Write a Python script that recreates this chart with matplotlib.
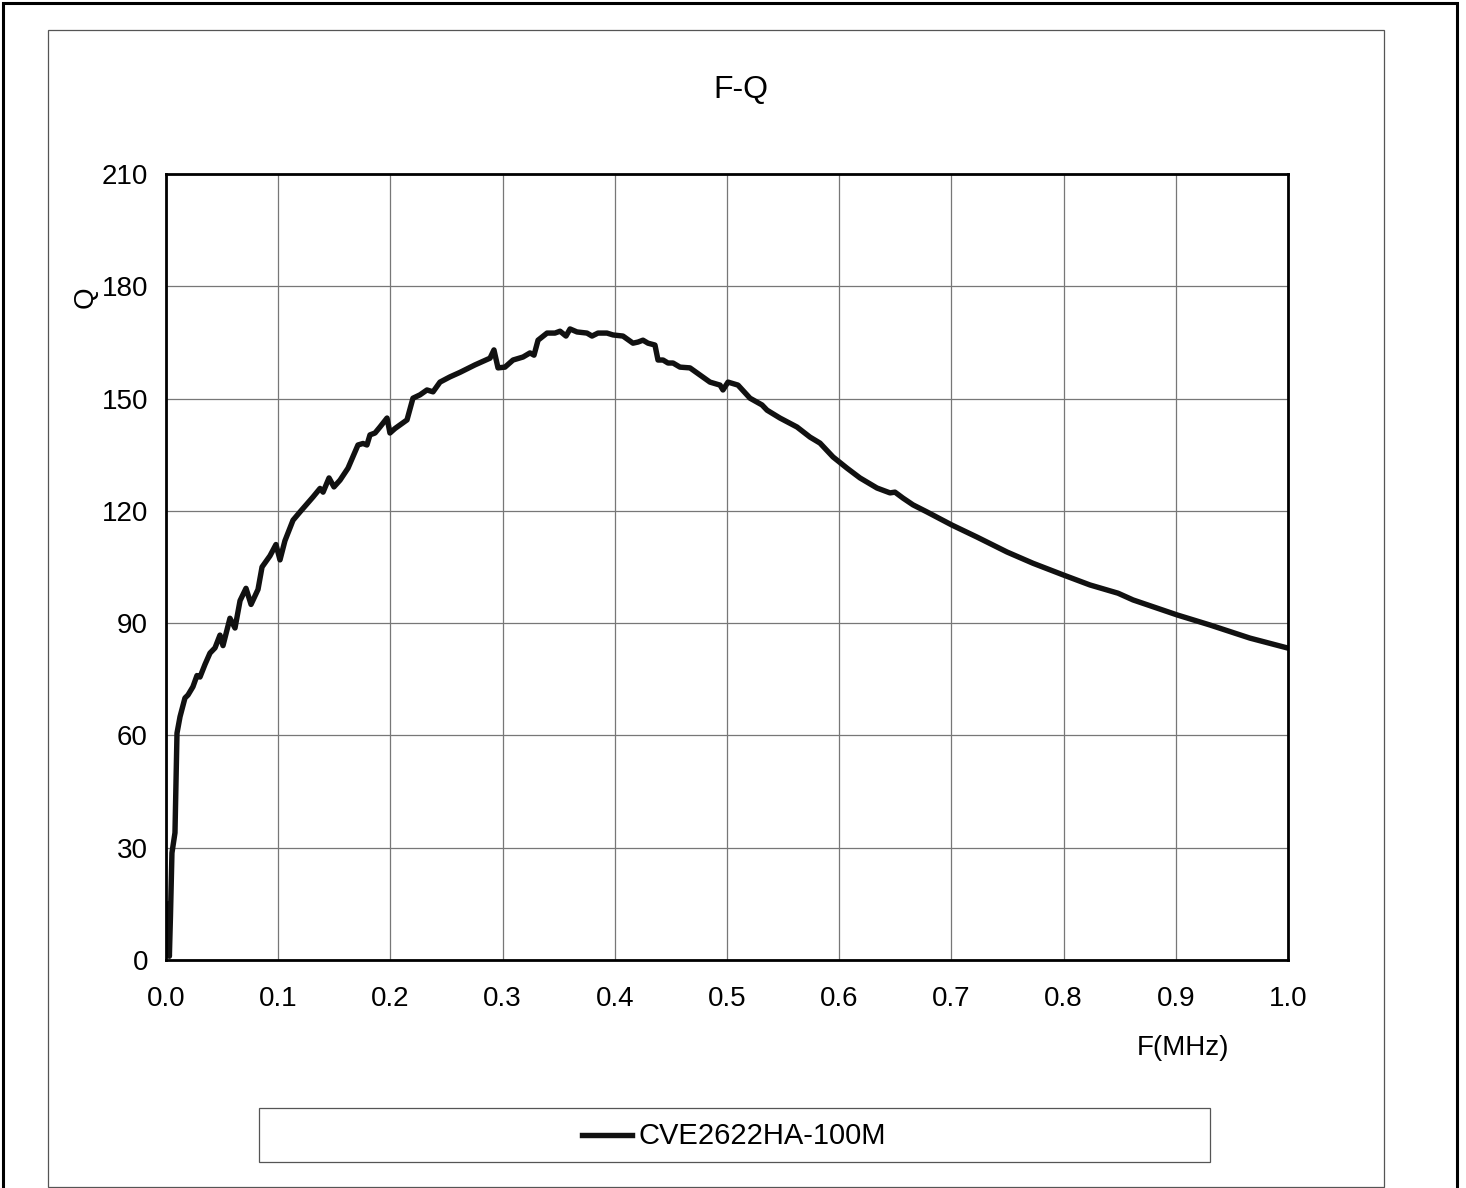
import matplotlib
matplotlib.use("Agg")
import matplotlib.pyplot as plt
from matplotlib.patches import Rectangle
from matplotlib.lines import Line2D

plt.rcParams['font.family'] = ['Liberation Sans', 'DejaVu Sans']

title = "F-Q"
series_name = "CVE2622HA-100M"
x_label = "F(MHz)"
y_label = "Q"

freq_mhz = [0.0005, 0.0015, 0.003, 0.004, 0.0053, 0.008, 0.0098, 0.0125, 0.0169, 0.0196,
            0.024, 0.0276, 0.0303, 0.0348, 0.0392, 0.0437, 0.0481, 0.0508, 0.057, 0.0615,
            0.066, 0.0713, 0.0758, 0.082, 0.0856, 0.0927, 0.098, 0.1016, 0.106, 0.1132,
            0.1194, 0.131, 0.1373, 0.14, 0.1453, 0.1497, 0.1551, 0.1622, 0.1711, 0.1756,
            0.1791, 0.1818, 0.1863, 0.1907, 0.197, 0.1996, 0.2041, 0.2148, 0.2201, 0.2264,
            0.2326, 0.238, 0.2442, 0.2531, 0.262, 0.2754, 0.2888, 0.2923, 0.2959, 0.3021,
            0.3093, 0.3182, 0.3244, 0.328, 0.3316, 0.3396, 0.3467, 0.3512, 0.3565, 0.3601,
            0.3663, 0.3752, 0.3797, 0.385, 0.393, 0.3984, 0.4073, 0.4162, 0.4207, 0.4251,
            0.4296, 0.4358, 0.4385, 0.443, 0.4474, 0.4519, 0.4581, 0.467, 0.4759, 0.4848,
            0.4938, 0.4964, 0.5009, 0.5098, 0.5205, 0.5312, 0.5357, 0.5472, 0.5624, 0.574,
            0.5829, 0.5945, 0.607, 0.6185, 0.6337, 0.6453, 0.6497, 0.6569, 0.6658, 0.6783,
            0.7005, 0.7228, 0.7496, 0.7727, 0.7995, 0.8235, 0.8485, 0.8619, 0.9011, 0.9305,
            0.9661, 0.9991]
q_values = [2, 15, 1, 12, 28.6, 34, 60.6, 65, 70, 70.8,
            73, 76, 75.6, 79, 82, 83.4, 86.8, 84, 91.3, 88.7,
            96, 99.3, 95, 99, 105, 108, 111, 106.9, 112, 117.5,
            119.7, 123.7, 126, 125, 128.8, 126.4, 128.2, 131.4, 137.6, 138,
            137.6, 140.3, 140.8, 142.4, 144.8, 140.8, 142, 144.3, 150.1, 151,
            152.3, 151.8, 154.4, 155.8, 157, 159, 160.8, 163, 158.2, 158.4,
            160.3, 161.1, 162.2, 161.6, 165.6, 167.5, 167.5, 168, 166.7, 168.6,
            167.8, 167.5, 166.7, 167.5, 167.5, 167, 166.7, 164.8, 165.1, 165.6,
            164.8, 164.3, 160.3, 160.3, 159.5, 159.5, 158.4, 158.2, 156.3, 154.4,
            153.6, 152.3, 154.4, 153.6, 150.1, 148.3, 146.9, 144.8, 142.4, 139.7,
            138.1, 134.4, 131.4, 128.8, 126.1, 124.8, 125, 123.4, 121.6, 119.7,
            116.2, 113, 109, 106, 102.9, 100.2, 98, 96.2, 92.2, 89.5,
            86, 83.4]

x_ticks = [0.0, 0.1, 0.2, 0.3, 0.4, 0.5, 0.6, 0.7, 0.8, 0.9, 1.0]
y_ticks = [0, 30, 60, 90, 120, 150, 180, 210]

W, H = 1466, 1188
fig = plt.figure(figsize=(W / 100, H / 100), dpi=100)
fig.patch.set_facecolor('white')

def fx(px):
    return px / W

def fy(py):
    return 1 - py / H

# outer frames
fig.add_artist(Rectangle((fx(3), fy(1190)), fx(1457) - fx(3), fy(3) - fy(1190),
                         transform=fig.transFigure, fill=False, edgecolor='black', linewidth=2.2))
fig.add_artist(Rectangle((fx(48), fy(1187)), fx(1384) - fx(48), fy(30) - fy(1187),
                         transform=fig.transFigure, fill=False, edgecolor='#555555', linewidth=0.9))

ax = fig.add_axes([fx(166), fy(960), fx(1288) - fx(166), fy(174) - fy(960)])
ax.plot(freq_mhz, q_values, color='#111111', linewidth=3.9, solid_joinstyle='round')
ax.set_xlim(0, 1.0)
ax.set_ylim(0, 210)
ax.set_xticks(x_ticks)
ax.set_xticklabels([f"{t:.1f}" for t in x_ticks])
ax.set_yticks(y_ticks)
ax.set_yticklabels([str(t) for t in y_ticks])
ax.grid(True, color='#777777', linewidth=0.9)
ax.set_axisbelow(True)
for s in ax.spines.values():
    s.set_linewidth(2.0)
    s.set_color('black')
ax.tick_params(axis='both', length=0, labelsize=20)
ax.tick_params(axis='x', pad=19)
ax.tick_params(axis='y', pad=13)

fig.text(fx(741), fy(90), title, ha='center', va='center', fontsize=23)
fig.text(fx(1183), fy(1048), x_label, ha='center', va='center', fontsize=20)
fig.text(fx(86), fy(297), y_label, ha='center', va='center', fontsize=20, rotation=90)

# legend box
fig.add_artist(Rectangle((fx(259), fy(1162)), fx(1210) - fx(259), fy(1108) - fy(1162),
                         transform=fig.transFigure, fill=False, edgecolor='#555555', linewidth=0.9))
fig.add_artist(Line2D([fx(582), fx(632)], [fy(1135), fy(1135)], transform=fig.transFigure,
                      color='#111111', linewidth=3.9))
fig.text(fx(638), fy(1136), series_name, ha='left', va='center', fontsize=21)

fig.savefig("out.png", dpi=100)
